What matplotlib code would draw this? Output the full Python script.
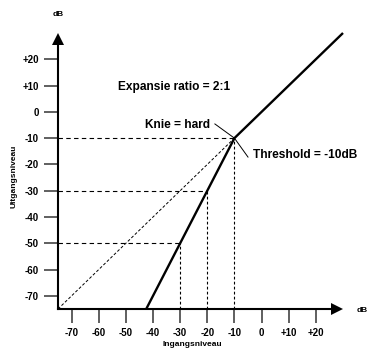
import matplotlib
matplotlib.use("Agg")
import matplotlib.pyplot as plt
from matplotlib.patches import Polygon

plt.rcParams['font.family'] = ['Liberation Sans', 'DejaVu Sans']

# Transfer curve of a 2:1 downward expander, hard knee at -10 dB
curve_in = [-42.5, -10, 30]
curve_out = [-75, -10, 30]

# Reference points marked with guide lines
ref_in = [-30, -20, -10]
ref_out = [-50, -30, -10]

# Unity-gain diagonal (below threshold)
unity_in = [-75, -10]
unity_out = [-75, -10]

tick_vals = [-70, -60, -50, -40, -30, -20, -10, 0, 10, 20]
tick_labels = ['-70', '-60', '-50', '-40', '-30', '-20', '-10', '0', '+10', '+20']

W, H = 369, 349
fig = plt.figure(figsize=(W / 100, H / 100), dpi=100)
fig.patch.set_facecolor('white')

# axes box in pixels: left 58, right 343, top 33, bottom 309
L, R, T, B = 58, 343, 33, 309
ax = fig.add_axes([L / W, 1 - B / H, (R - L) / W, (B - T) / H])
lo, hi = -75, 30
ax.set_xlim(lo, hi)
ax.set_ylim(lo, hi)
ax.set_facecolor('none')

px_x = (R - L) / (hi - lo)
px_y = (B - T) / (hi - lo)

def fpx(x, y):
    return x / W, 1 - y / H

# axes with arrowheads
head_len, head_half = 12, 6
for s in ['top', 'right']:
    ax.spines[s].set_visible(False)
ax.spines['left'].set_bounds(lo, hi - head_len / px_y + 0.5)
ax.spines['bottom'].set_bounds(lo, hi - head_len / px_x + 0.5)
for s in ['left', 'bottom']:
    ax.spines[s].set_linewidth(1.5)
    ax.spines[s].set_capstyle('projecting')

ax.add_patch(Polygon([(lo, hi), (lo - head_half / px_x, hi - head_len / px_y),
                      (lo + head_half / px_x, hi - head_len / px_y)],
                     closed=True, color='black', clip_on=False, lw=0))
ax.add_patch(Polygon([(hi, lo), (hi - head_len / px_x, lo - head_half / px_y),
                      (hi - head_len / px_x, lo + head_half / px_y)],
                     closed=True, color='black', clip_on=False, lw=0))

ax.set_xticks(tick_vals)
ax.set_xticklabels(tick_labels)
ax.set_yticks(tick_vals)
ax.set_yticklabels(tick_labels)
ax.tick_params(direction='out', length=9.8, width=1.2, color='#444444',
               labelsize=7, pad=4)
for lab in ax.get_xticklabels() + ax.get_yticklabels():
    lab.set_fontweight('bold')

# guide lines
for xi, yo in zip(ref_in, ref_out):
    ax.plot([lo, xi], [yo, yo], color='black', lw=0.8,
            dashes=(4, 3), clip_on=False)
    ax.plot([xi, xi], [lo, yo], color='black', lw=0.8,
            dashes=(2.5, 2), clip_on=False)

ax.plot(unity_in, unity_out, color='black', lw=0.7, dashes=(3, 2))

# transfer curve
ax.plot(curve_in, curve_out, color='black', lw=1.7, clip_on=False,
        solid_capstyle='butt')

# leader lines to the knee
ax.plot([-17.2, -10], [-4.6, -10], color='black', lw=0.7)
ax.plot([-10, -5.0], [-10, -17.2], color='black', lw=0.7)

txt = dict(fontweight='bold', color='black')
fig.text(*fpx(118, 87), 'Expansie ratio = 2:1', fontsize=8.6,
         ha='left', va='center', **txt)
fig.text(*fpx(210, 125), 'Knie = hard', fontsize=8.6,
         ha='right', va='center', **txt)
fig.text(*fpx(253, 155), 'Threshold = -10dB', fontsize=8.6,
         ha='left', va='center', **txt)

fig.text(*fpx(58, 15), 'dB', fontsize=6, ha='center', va='center', **txt)
fig.text(*fpx(357, 310), 'dB', fontsize=6, ha='left', va='center', **txt)
fig.text(*fpx(14, 176), 'Uitgangsniveau', fontsize=6, rotation=90,
         ha='center', va='center', **txt)
fig.text(*fpx(192, 344), 'Ingangsniveau', fontsize=6,
         ha='center', va='center', **txt)

fig.savefig('out.png', dpi=100, facecolor='white')
